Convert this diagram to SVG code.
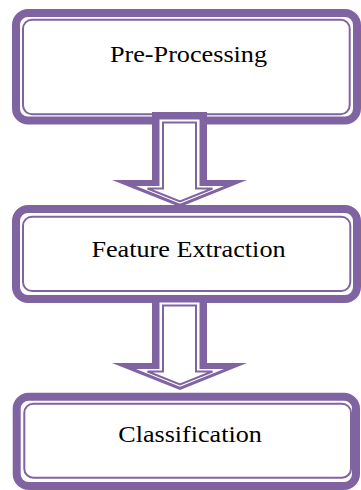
<svg xmlns="http://www.w3.org/2000/svg" width="361" height="490" viewBox="0 0 361 490">
  <style>
    .band { fill: none; stroke: #8064A2; stroke-width: 8; }
    .thin { fill: none; stroke: #8064A2; stroke-width: 2; }
    .aout { fill: #8064A2; }
    .ain { fill: #FFFFFF; }
    .athin { fill: #FFFFFF; stroke: #8064A2; stroke-width: 2; stroke-linejoin: miter; }
    .label { font-family: "Liberation Serif", "Times New Roman", serif; font-size: 22.5px; fill: #000000; text-anchor: middle; }
  </style>
  <defs>
    <g id="arrow">
      <polygon class="aout" points="152,112 207,112 207,180 247,180 180,207 112,180 152,180"/>
      <polygon class="ain" points="159.5,119.5 199.5,119.5 199.5,186 224,186 180,203.8 136,186 159.5,186"/>
      <polygon class="athin" points="163,122.5 196,122.5 196,188.5 212.5,188.5 180,201.5 147.5,188.5 163,188.5"/>
    </g>
  </defs>
  <rect width="361" height="490" fill="#FFFFFF"/>
  <g id="node-preprocessing">
    <rect class="band" x="16" y="13" width="341" height="107.5" rx="12"/>
    <rect class="thin" x="23" y="19.7" width="326.7" height="94.6" rx="9"/>
    <text class="label" transform="translate(188.5,62) scale(1.165,1)">Pre-Processing</text>
  </g>
  <g id="node-feature-extraction">
    <rect class="band" x="16" y="209" width="341" height="90" rx="12"/>
    <rect class="thin" x="23" y="216.7" width="327.3" height="74.3" rx="9"/>
    <text class="label" transform="translate(188.5,257) scale(1.165,1)">Feature Extraction</text>
  </g>
  <g id="node-classification">
    <rect class="band" x="16.7" y="396.7" width="339.3" height="89.3" rx="12"/>
    <rect class="thin" x="24.3" y="403.7" width="326.7" height="74" rx="9"/>
    <text class="label" transform="translate(190,442) scale(1.16,1)">Classification</text>
  </g>
  <g id="connectors">
    <use href="#arrow"/>
    <use href="#arrow" transform="translate(0,183)"/>
  </g>
</svg>
